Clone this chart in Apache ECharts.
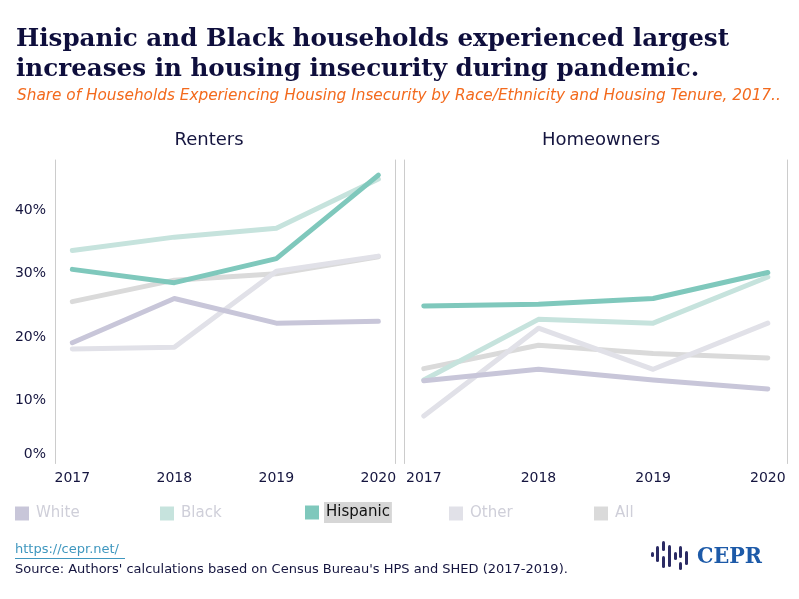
<!DOCTYPE html>
<html><head><meta charset="utf-8">
<script src="https://cdn.jsdelivr.net/npm/echarts@6/dist/echarts.min.js"></script>
<style>html,body{margin:0;padding:0;background:#fff}#c{width:799px;height:599px}</style>
</head><body><div id="c"></div>
<script>
const years = [2017, 2018, 2019, 2020];
const groups = ['White', 'Black', 'Hispanic', 'Other', 'All'];
const rentersWhite = [19.1, 26.1, 22.2, 22.5];
const rentersBlack = [33.7, 35.8, 37.2, 45.0];
const rentersHispanic = [30.7, 28.6, 32.4, 45.6];
const rentersOther = [18.1, 18.4, 30.4, 32.8];
const rentersAll = [25.6, 29.0, 30.0, 32.7];
const ownersWhite = [13.1, 14.9, 13.2, 11.8];
const ownersBlack = [13.2, 22.8, 22.2, 29.5];
const ownersHispanic = [24.9, 25.2, 26.1, 30.2];
const ownersOther = [7.5, 21.4, 14.9, 22.2];
const ownersAll = [15.0, 18.7, 17.4, 16.7];
const yTicks = [0, 10, 20, 30, 40];

const colors = {White:'#c8c6d9', Black:'#c6e3dd', Hispanic:'#7fc8bc', Other:'#e1e1e8', All:'#dadada'};
const renters = {White:rentersWhite, Black:rentersBlack, Hispanic:rentersHispanic, Other:rentersOther, All:rentersAll};
const owners = {White:ownersWhite, Black:ownersBlack, Hispanic:ownersHispanic, Other:ownersOther, All:ownersAll};
const drawOrder = ['All', 'Other', 'Black', 'White', 'Hispanic'];

const navy = '#15153f';
const series = [];
[[renters, 0], [owners, 1]].forEach(([set, gi]) => {
  drawOrder.forEach((g, k) => {
    series.push({
      name: g, type: 'line', xAxisIndex: gi, yAxisIndex: gi * 2,
      data: years.map((y, i) => [y, set[g][i]]),
      symbol: 'none', smooth: false, z: 2 + k,
      lineStyle: {color: colors[g], width: 5, cap: 'round', join: 'round'},
      itemStyle: {color: colors[g]},
      emphasis: {disabled: true}, silent: true
    });
  });
});

const legendLeft = [15, 160, 305, 449, 594];
const legends = groups.map((g, i) => ({
  left: legendLeft[i], top: g === 'Hispanic' ? 502 : 506, padding: 0, icon: 'rect', itemWidth: 14, itemHeight: 14, itemGap: 0,
  selectedMode: false,
  data: [{name: g, textStyle: g === 'Hispanic'
    ? {color: '#111', backgroundColor: '#d6d6d6', padding: [3, 2, 3, 2], fontSize: 15, fontFamily: 'DejaVu Sans'}
    : {color: '#cfcfd9', padding: [3, 2, 3, 2], fontSize: 15, fontFamily: 'DejaVu Sans'}}]
}));

const yLabel = {
  color: navy, fontSize: 14, fontFamily: 'DejaVu Sans', margin: 9, showMaxLabel: false,
  formatter: v => v === 0 ? '{z|0%}' : v + '%',
  rich: {z: {color: navy, fontSize: 14, fontFamily: 'DejaVu Sans', padding: [0, 0, 19, 0]}}
};
const lineAx = {show: true, lineStyle: {color: '#cccccc', width: 1}};
function yAx(gi, pos, labels) {
  return {type: 'value', gridIndex: gi, position: pos, min: 0, max: 48, interval: 10,
    axisLine: lineAx, axisTick: {show: false}, splitLine: {show: false},
    axisLabel: labels ? yLabel : {show: false}};
}
function xAx(gi) {
  return {type: 'value', gridIndex: gi, min: 2016.83, max: 2020.17,
    axisLine: {show: false}, axisTick: {show: false}, splitLine: {show: false},
    axisLabel: {customValues: years, formatter: v => String(v), color: navy, fontSize: 14, fontFamily: 'DejaVu Sans', margin: 8}};
}

const logoBars = [
  [651, 552, 5], [656, 546, 16], [662, 541, 10], [662, 556, 12], [668, 545, 22], [674, 552, 8],
  [679, 546, 12], [679, 562, 8], [685, 551, 14]
];
const graphics = logoBars.map(b => ({type: 'rect', shape: {x: b[0], y: b[1], width: 3, height: b[2], r: 1.5}, style: {fill: '#2b2b64'}}));
graphics.push({type: 'text', left: 697, top: 546, style: {text: 'CEPR', fill: '#1d5aa8', font: 'bold 23px "DejaVu Serif Condensed", "DejaVu Serif", serif'}});
graphics.push({type: 'text', left: 15, top: 543, style: {text: 'https://cepr.net/', fill: '#3f97bf', font: '13px "DejaVu Sans", sans-serif'}});
graphics.push({type: 'rect', shape: {x: 15, y: 558, width: 110, height: 1}, style: {fill: '#3f97bf'}});
graphics.push({type: 'text', left: 15, top: 563, style: {text: "Source: Authors' calculations based on Census Bureau's HPS and SHED (2017-2019).", fill: navy, font: '13px "DejaVu Sans", sans-serif'}});

const chart = echarts.init(document.getElementById('c'), null, {renderer: 'canvas'});
chart.setOption({
  animation: false,
  backgroundColor: '#fff',
  title: [
    {text: 'Hispanic and Black households experienced largest\nincreases in housing insecurity during pandemic.', left: 11, top: 20,
      textStyle: {color: '#0e0e3c', fontSize: 24.6, fontWeight: 'bold', fontFamily: 'DejaVu Serif', lineHeight: 30}},
    {text: 'Share of Households Experiencing Housing Insecurity by Race/Ethnicity and Housing Tenure, 2017..', left: 12, top: 84,
      textStyle: {color: '#f36a1d', fontSize: 15.3, fontStyle: 'italic', fontWeight: 'normal', fontFamily: 'DejaVu Sans'}},
    {text: 'Renters', left: 204, top: 126, textAlign: 'center', textStyle: {color: navy, fontSize: 18, fontWeight: 'normal', fontFamily: 'DejaVu Sans'}},
    {text: 'Homeowners', left: 596, top: 126, textAlign: 'center', textStyle: {color: navy, fontSize: 18, fontWeight: 'normal', fontFamily: 'DejaVu Sans'}}
  ],
  legend: legends,
  grid: [
    {left: 55, top: 160, width: 340.7, height: 303.5},
    {left: 404.3, top: 160, width: 383, height: 303.5}
  ],
  xAxis: [xAx(0), xAx(1)],
  yAxis: [yAx(0, 'left', true), yAx(0, 'right', false), yAx(1, 'left', false), yAx(1, 'right', false)],
  series: series,
  graphic: graphics
});
</script></body></html>
